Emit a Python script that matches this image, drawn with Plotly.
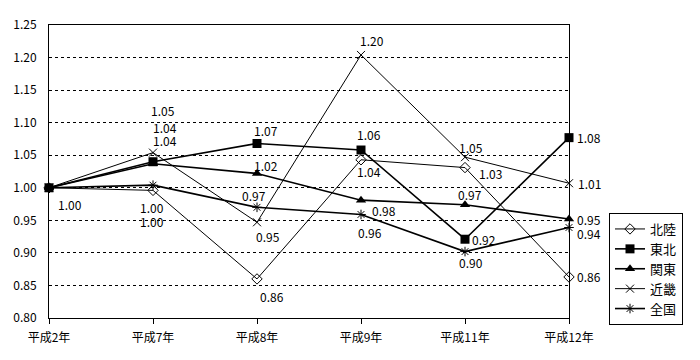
import plotly.graph_objects as go

categories = ["平成2年", "平成7年", "平成8年", "平成9年", "平成11年", "平成12年"]
hokuriku = [1.00, 0.996, 0.86, 1.043, 1.031, 0.863]
tohoku = [1.00, 1.040, 1.068, 1.058, 0.921, 1.077]
kanto = [1.00, 1.037, 1.022, 0.981, 0.974, 0.952]
kinki = [1.00, 1.054, 0.947, 1.204, 1.047, 1.007]
zenkoku = [1.00, 1.004, 0.970, 0.959, 0.902, 0.939]
y_ticks = [0.80, 0.85, 0.90, 0.95, 1.00, 1.05, 1.10, 1.15, 1.20, 1.25]

FONT = "Noto Sans CJK JP"

series = [
    ("北陸", hokuriku, dict(symbol="diamond-open", size=8, color="black", line=dict(width=1, color="black")), 1),
    ("東北", tohoku, dict(symbol="square", size=9, color="black"), 1.6),
    ("関東", kanto, dict(symbol="triangle-up", size=9, color="black"), 1.6),
    ("近畿", kinki, dict(symbol="x-thin-open", size=8, color="black", line=dict(width=1, color="black")), 1),
    ("全国", zenkoku, dict(symbol="asterisk-open", size=8, color="black", line=dict(width=1, color="black")), 1.6),
]

# label pixel offsets (dx, dy) per series per point; None = no label
offsets = {
    "北陸": [(21, 17), (-1, 31), (15, 18), (8, 12), (25, 6), (20, 0)],
    "東北": [None, (12, -34), (9, -13), (8, -16), (19, 0), (20, 0)],
    "関東": [None, (12, -23), (9, -8), (23, 10), (5, -10), (20, 0)],
    "近畿": [None, (10, -42), (11, 14), (11, -14), (6, -10), (20, 0)],
    "全国": [None, (-1, 22), (-3, -12), (9, 18), (6, 11), (20, 6)],
}

fig = go.Figure()
annotations = []
for name, vals, marker, lw in series:
    fig.add_trace(go.Scatter(
        x=categories, y=vals, name=name, mode="lines+markers",
        line=dict(color="black", width=lw), marker=marker, cliponaxis=False,
    ))
    for i, v in enumerate(vals):
        off = offsets[name][i]
        if off is None:
            continue
        annotations.append(dict(
            x=categories[i], y=v, text=f"{v:.2f}", showarrow=False,
            xshift=off[0], yshift=-off[1], font=dict(family=FONT, size=12, color="black"),
        ))

fig.update_layout(
    width=700, height=360,
    margin=dict(l=49, r=131, t=25, b=42),
    paper_bgcolor="white", plot_bgcolor="white",
    font=dict(family=FONT, size=12, color="black"),
    annotations=annotations,
    legend=dict(
        x=609 / 700, xanchor="left", y=(360 - 213) / 360, yanchor="top",
        yref="container", xref="container",
        bordercolor="black", borderwidth=1, bgcolor="white",
        font=dict(family=FONT, size=13), tracegroupgap=0, itemwidth=30,
    ),
    xaxis=dict(
        type="category", range=[0, 5], showgrid=False,
        showline=True, linecolor="black", linewidth=1, mirror=True,
        ticks="outside", ticklen=5, tickcolor="black", zeroline=False,
        tickfont=dict(family=FONT, size=12), ticklabelstandoff=4,
    ),
    yaxis=dict(
        range=[0.80, 1.25], tickvals=y_ticks, ticktext=[f"{t:.2f}" for t in y_ticks],
        showgrid=True, gridcolor="black", griddash="dot", gridwidth=1,
        showline=True, linecolor="black", linewidth=1, mirror=True,
        ticks="", zeroline=False, tickfont=dict(family=FONT, size=12),
        ticklabelstandoff=9,
    ),
)
fig.write_html("out.html", config={"displayModeBar": False},
               post_script="document.body.style.margin='0';")
